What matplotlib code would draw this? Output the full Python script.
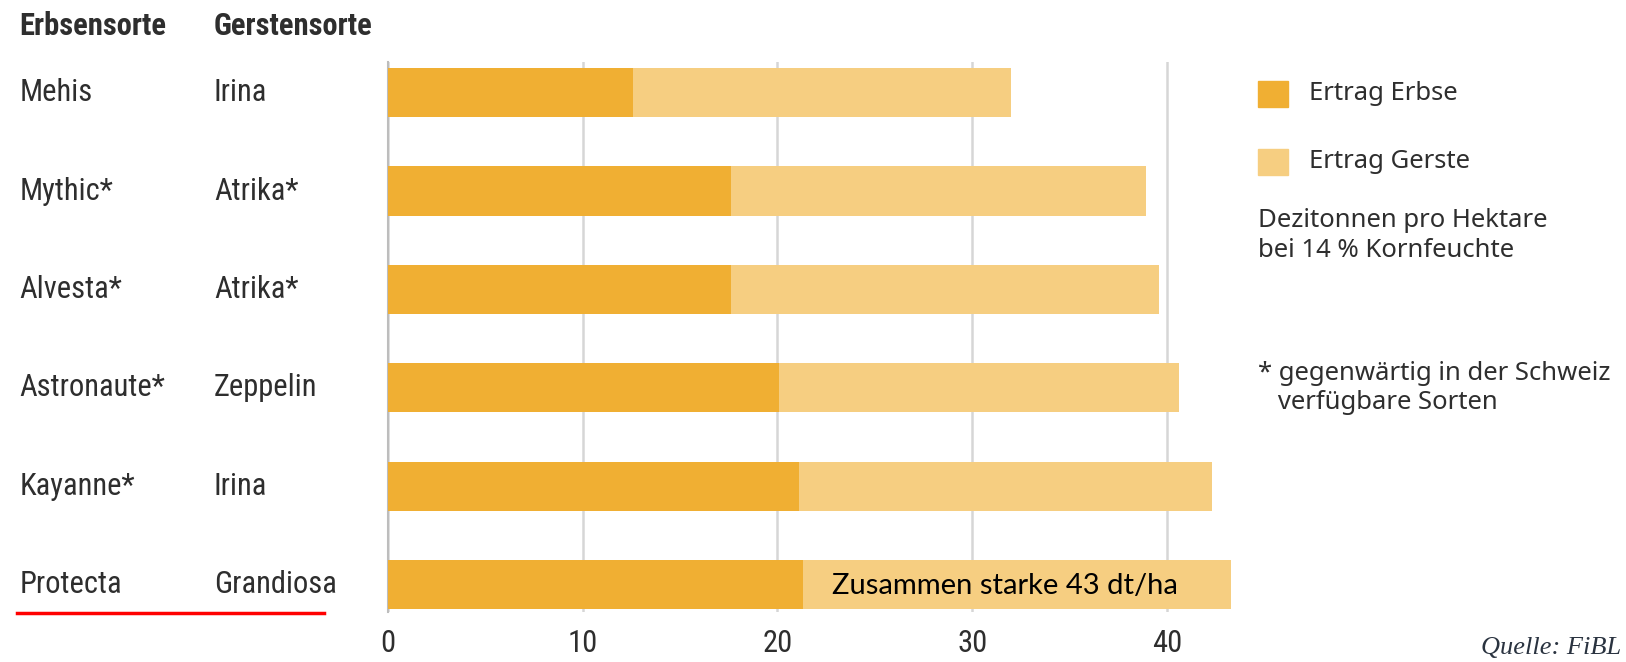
import numpy as np
import matplotlib.pyplot as plt
import matplotlib.transforms as mtransforms
from matplotlib.patches import Rectangle
from matplotlib.lines import Line2D

erbsen = ["Mehis", "Mythic*", "Alvesta*", "Astronaute*", "Kayanne*", "Protecta"]
gersten = ["Irina", "Atrika*", "Atrika*", "Zeppelin", "Irina", "Grandiosa"]
ertrag_erbse = [12.6, 17.6, 17.6, 20.1, 21.1, 21.3]
ertrag_gerste = [19.4, 21.3, 22.0, 20.5, 21.2, 22.0]
xticks = [0, 10, 20, 30, 40]

c_erbse = "#f0af33"
c_gerste = "#f6ce81"
txt = "#2e2e2e"
cond = ["Roboto Condensed", "DejaVu Sans"]
plain = ["Noto Sans", "DejaVu Sans"]

fig = plt.figure(figsize=(16.26, 6.62), dpi=100)
ax = fig.add_axes([0.2386, 0.0755, 0.527, 0.8305])

y = np.arange(len(erbsen))
ax.barh(y, ertrag_erbse, height=0.5, color=c_erbse, zorder=3)
ax.barh(y, ertrag_gerste, left=ertrag_erbse, height=0.5, color=c_gerste, zorder=3)

ax.set_xlim(0, 44)
ax.set_ylim(5.28, -0.31)
ax.set_xticks(xticks)
ax.set_xticklabels([str(t) for t in xticks], family=cond, fontsize=22, color=txt)
ax.set_yticks([])
ax.tick_params(axis="x", length=0, pad=12)
ax.grid(axis="x", color="#d6d6d6", linewidth=1.8, zorder=0)
for s in ["top", "right", "bottom"]:
    ax.spines[s].set_visible(False)
ax.spines["left"].set_color("#bdbdbd")
ax.spines["left"].set_linewidth(1.5)

# Sortennamen links
tr = mtransforms.blended_transform_factory(fig.transFigure, ax.transData)
for i in range(len(erbsen)):
    ax.text(0.0118, y[i], erbsen[i], transform=tr, family=cond, fontsize=22,
            color=txt, va="center", ha="left")
    ax.text(0.1315, y[i], gersten[i], transform=tr, family=cond, fontsize=22,
            color=txt, va="center", ha="left")
fig.text(0.0118, 0.961, "Erbsensorte", family=cond, fontsize=22, weight="bold",
         color=txt, va="center")
fig.text(0.1315, 0.961, "Gerstensorte", family=cond, fontsize=22, weight="bold",
         color=txt, va="center")

# rote Unterstreichung
fig.add_artist(Line2D([0.0105, 0.1995], [0.0745, 0.0745], color="red", linewidth=2.5))

# Hinweis im letzten Balken
ax.text(ertrag_erbse[-1] + 1.5, y[-1] + 0.02, "Zusammen starke 43 dt/ha",
        family=["Lato", "DejaVu Sans"], fontsize=21, color="black",
        va="center", ha="left", zorder=4)

# Legende
lx = 0.7735
fig.add_artist(Rectangle((lx, 0.838), 0.0185, 0.04, transform=fig.transFigure,
                         color=c_erbse))
fig.add_artist(Rectangle((lx, 0.735), 0.0185, 0.04, transform=fig.transFigure,
                         color=c_gerste))
fig.text(0.805, 0.859, "Ertrag Erbse", family=plain, fontsize=18.5, color=txt, va="center")
fig.text(0.805, 0.756, "Ertrag Gerste", family=plain, fontsize=18.5, color=txt, va="center")
fig.text(lx, 0.644, "Dezitonnen pro Hektare\nbei 14 % Kornfeuchte", family=plain,
         fontsize=18.5, color=txt, va="center", linespacing=1.25)
fig.text(lx, 0.414, "* gegenwärtig in der Schweiz\n   verfügbare Sorten", family=plain,
         fontsize=18.5, color=txt, va="center", linespacing=1.25)

fig.text(0.997, 0.005, "Quelle: FiBL", family="Liberation Serif", style="italic",
         fontsize=19, color="#2a3340", va="bottom", ha="right")

plt.savefig("out.png")
